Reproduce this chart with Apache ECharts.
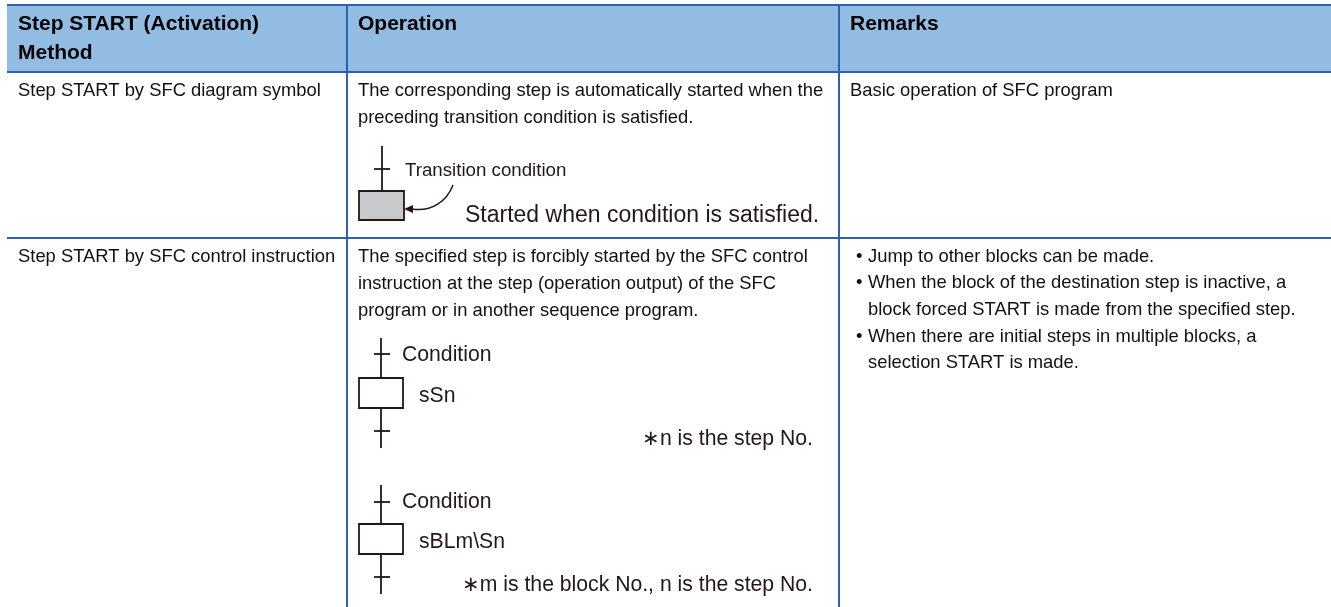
<!DOCTYPE html>
<html>
<head>
<meta charset="utf-8">
<title>Step START method</title>
<script src="https://cdn.jsdelivr.net/npm/echarts@6/dist/echarts.min.js"></script>
<style>
html,body{margin:0;padding:0;background:#fff;}
#main{width:1331px;height:607px;}
</style>
</head>
<body>
<div id="main"></div>
<script>
// table text
var headers = ['Step START (Activation)', 'Method', 'Operation', 'Remarks'];
var methods = ['Step START by SFC diagram symbol', 'Step START by SFC control instruction'];
var operation1 = ['The corresponding step is automatically started when the', 'preceding transition condition is satisfied.'];
var operation2 = ['The specified step is forcibly started by the SFC control', 'instruction at the step (operation output) of the SFC', 'program or in another sequence program.'];
var remark1 = ['Basic operation of SFC program'];
var remark2 = ['Jump to other blocks can be made.', 'When the block of the destination step is inactive, a', 'block forced START is made from the specified step.', 'When there are initial steps in multiple blocks, a', 'selection START is made.'];
var diagramText = ['Transition condition', 'Started when condition is satisfied.', 'Condition', 'sSn', '\u2217n is the step No.', 'sBLm\\Sn', '\u2217m is the block No., n is the step No.'];

var FONT = '"Liberation Sans", Arial, sans-serif';
var LINE = '#2f62ae';
var INK = '#231815';
var HEAD = 21, BODY = 18.4;
var els = [];

function txt(s, x, y, size, opt) {
    opt = opt || {};
    els.push({
        type: 'text', z: 5,
        style: {
            x: x, y: y, text: s, font: (opt.bold ? 'bold ' : '') + size + 'px ' + FONT,
            fill: opt.fill || '#111', align: opt.align || 'left', verticalAlign: 'middle'
        }
    });
}
function seg(x1, y1, x2, y2, color, w) {
    els.push({
        type: 'line', z: 3,
        shape: {x1: x1, y1: y1, x2: x2, y2: y2},
        style: {stroke: color, lineWidth: w}
    });
}
function box(x, y, w, h, fill) {
    els.push({
        type: 'rect', z: 4,
        shape: {x: x, y: y, width: w, height: h},
        style: {fill: fill, stroke: INK, lineWidth: 1.8}
    });
}

// header band and grid
els.push({type: 'rect', z: 1, shape: {x: 7, y: 5, width: 1324, height: 67}, style: {fill: '#93bce3'}});
seg(7, 5, 1331, 5, LINE, 2);
seg(7, 72, 1331, 72, LINE, 2);
seg(7, 238, 1331, 238, LINE, 2);
seg(347, 5, 347, 607, LINE, 2);
seg(839, 5, 839, 607, LINE, 2);

txt(headers[0], 18, 24, HEAD, {bold: true, fill: '#000'});
txt(headers[1], 18, 53, HEAD, {bold: true, fill: '#000'});
txt(headers[2], 358, 24, HEAD, {bold: true, fill: '#000'});
txt(headers[3], 850, 24, HEAD, {bold: true, fill: '#000'});

txt(methods[0], 18, 91, BODY);
txt(methods[1], 18, 257, BODY);

operation1.forEach(function (s, i) { txt(s, 358, 91 + i * 27, BODY); });
operation2.forEach(function (s, i) { txt(s, 358, 257 + i * 27, BODY); });
txt(remark1[0], 850, 91, BODY);

var remarkY = [257, 283, 310, 337, 363];
var bullets = [true, true, false, true, false];
remark2.forEach(function (s, i) {
    if (bullets[i]) { txt('\u2022', 856, remarkY[i], BODY); }
    txt(s, 868, remarkY[i], BODY);
});

// first diagram: transition and shaded step
seg(382, 146, 382, 191, INK, 1.8);
seg(374, 169, 390, 169, INK, 1.8);
box(359, 191, 45, 29, '#c8c9ca');
els.push({
    type: 'bezierCurve', z: 4,
    shape: {x1: 453, y1: 185, cpx1: 447, cpy1: 201, cpx2: 432, cpy2: 212, x2: 412, y2: 209},
    style: {stroke: INK, lineWidth: 1.5, fill: 'none'}
});
els.push({
    type: 'polygon', z: 4,
    shape: {points: [[404, 209], [413, 205], [413, 213]]},
    style: {fill: INK}
});
txt(diagramText[0], 405, 171, 18.7, {fill: INK});
txt(diagramText[1], 465, 216, 23, {fill: INK});

// the two step symbols with stems
function stepSym(top, tickTop, boxTop, tickBottom, bottom) {
    seg(381, top, 381, bottom, INK, 1.8);
    seg(374, tickTop, 390, tickTop, INK, 1.8);
    seg(374, tickBottom, 390, tickBottom, INK, 1.8);
    box(359, boxTop, 44, 30, '#fff');
}
stepSym(338, 354, 378, 431, 448);
stepSym(485, 502, 524, 577, 594);
txt(diagramText[2], 402, 355, 21.2, {fill: INK});
txt(diagramText[3], 419, 396, 21.2, {fill: INK});
txt(diagramText[4], 813, 439, 21.2, {fill: INK, align: 'right'});
txt(diagramText[2], 402, 502, 21.2, {fill: INK});
txt(diagramText[5], 419, 542, 21.2, {fill: INK});
txt(diagramText[6], 813, 585, 21.2, {fill: INK, align: 'right'});

var myChart = echarts.init(document.getElementById('main'), null, {renderer: 'canvas'});
myChart.setOption({
    animation: false,
    backgroundColor: '#fff',
    graphic: {elements: els}
});
</script>
</body>
</html>
